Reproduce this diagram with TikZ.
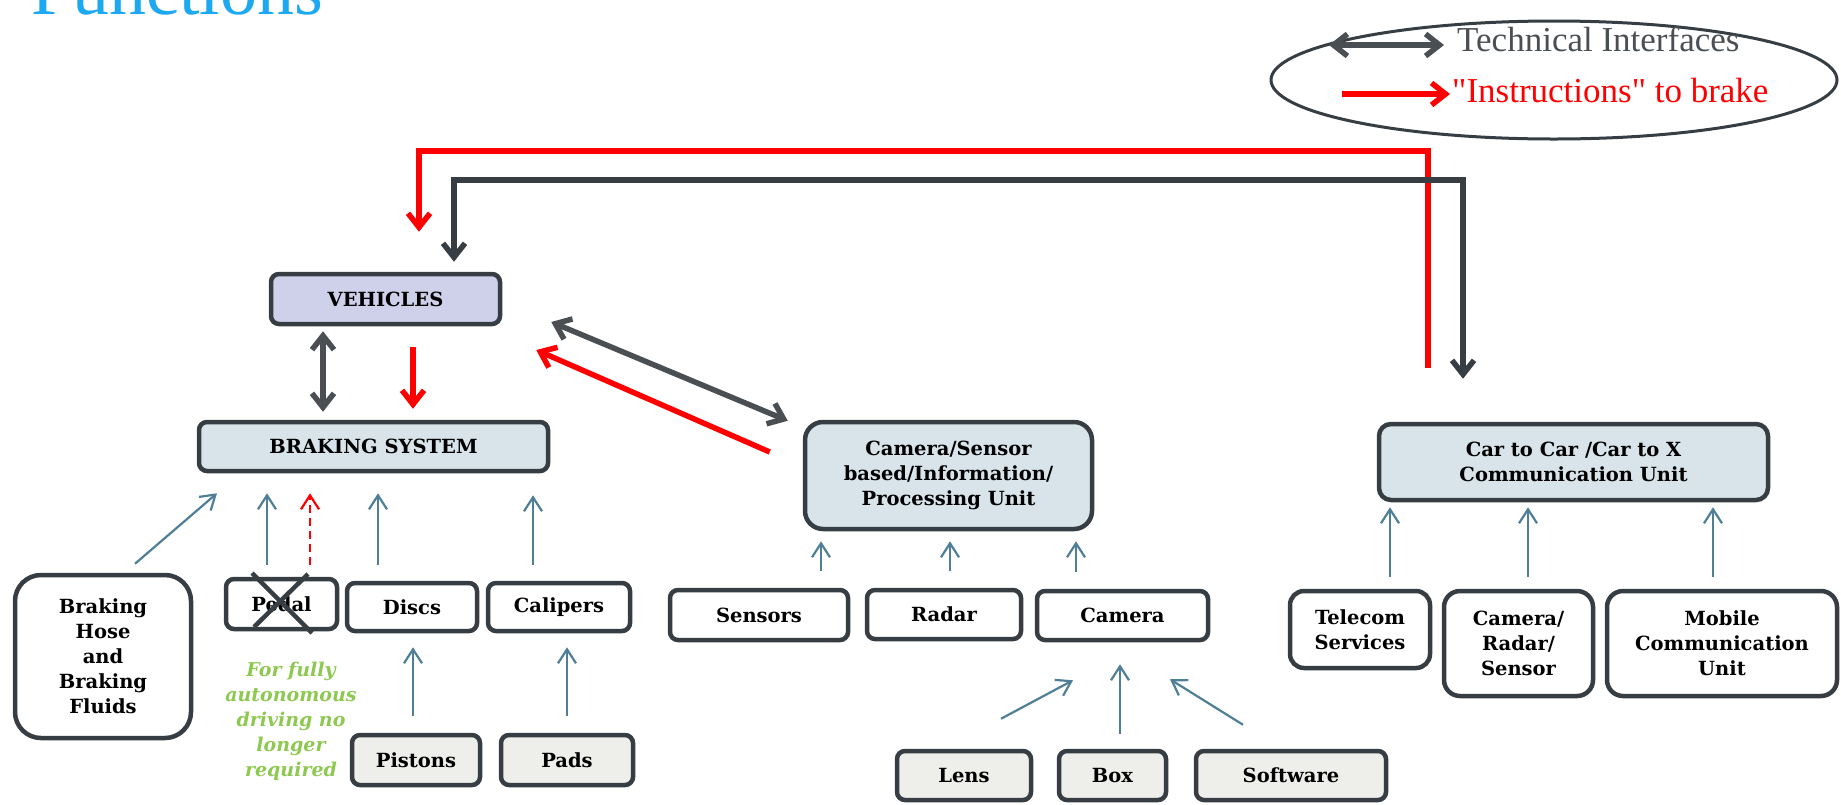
\documentclass[tikz,border=0pt]{standalone}
\usepackage{fontspec}
\setmainfont{DejaVu Serif}
\newfontfamily\legendfont{Liberation Serif}
\usetikzlibrary{arrows.meta}

\definecolor{boxline}{HTML}{363E44}
\definecolor{techgray}{HTML}{4A4F54}
\definecolor{feedblue}{HTML}{4F7F96}
\definecolor{vehfill}{HTML}{CFD0EA}
\definecolor{unitfill}{HTML}{D8E4EA}
\definecolor{partfill}{HTML}{EEEFEA}
\definecolor{notegreen}{HTML}{8DC850}
\definecolor{titleblue}{HTML}{1DA9F1}

\tikzset{
	part/.style={draw=boxline, line width=4.5pt, rounded corners=8pt, fill=white, align=center, inner sep=0pt, font=\bfseries\fontsize{19.5}{25}\selectfont},
	unit/.style={part, fill=unitfill},
	subpart/.style={part, fill=partfill},
	tech/.style={draw=techgray, line width=5.5pt, >={Straight Barb[length=14pt,width=22pt]}},
	instr/.style={draw=red, line width=5.5pt, -{Straight Barb[length=14pt,width=22pt]}},
	feed/.style={draw=feedblue, line width=2.2pt, -{Straight Barb[length=14pt,width=18pt]}},
}

\begin{document}
\begin{tikzpicture}[x=1pt, y=-1pt]
			%%%%% START %%%%%
			\useasboundingbox (0,0) rectangle (1841,804);
			
			\node[anchor=base west, inner sep=0pt, text=titleblue, font=\legendfont\fontsize{74}{80}\selectfont] (title) at (31,14) {Functions};
			
			% legend
			\draw[boxline, line width=3pt] (1554,80) ellipse (283 and 59);
			\node[anchor=west, inner sep=0pt, text=techgray, font=\legendfont\fontsize{35}{40}\selectfont] (techlbl) at (1457,39) {Technical Interfaces};
			\node[anchor=west, inner sep=0pt, text=red, font=\legendfont\fontsize{35}{40}\selectfont] (brakelbl) at (1452,91) {"Instructions" to brake};
			\draw[tech,<->] ([xshift=-128pt,yshift=-6pt]techlbl.west) -- ([xshift=-13pt,yshift=-6pt]techlbl.west);
			\draw[instr] ([xshift=-110pt,yshift=-3pt]brakelbl.west) -- ([xshift=-2pt,yshift=-3pt]brakelbl.west);
			
			% main units
			\node[part, fill=vehfill, minimum width=229pt, minimum height=50pt] (veh) at (385.5,299) {VEHICLES};
			\node[unit, minimum width=349pt, minimum height=49pt] (brake) at (373.5,446.5) {BRAKING SYSTEM};
			\node[unit, rounded corners=18pt, minimum width=287pt, minimum height=107pt] (camunit) at (948.5,475.5) {Camera/Sensor\\based/Information/\\Processing Unit};
			\node[unit, rounded corners=12pt, minimum width=389pt, minimum height=76pt] (car) at (1573.5,462) {Car to Car /Car to X\\Communication Unit};
			
			% braking parts
			\node[part, rounded corners=26pt, minimum width=176pt, minimum height=163pt] (hose) at (103,656.5) {Braking\\Hose\\and\\Braking\\Fluids};
			\node[part, minimum width=111pt, minimum height=50pt] (pedal) at (281.5,604) {Pedal};
			\node[part, minimum width=130pt, minimum height=48pt] (discs) at (412,607) {Discs};
			\node[part, minimum width=142pt, minimum height=48pt] (calipers) at (559,607) {Calipers};
			\node[subpart, minimum width=128pt, minimum height=50pt] (pistons) at (416,760) {Pistons};
			\node[subpart, minimum width=132pt, minimum height=50pt] (pads) at (567,760) {Pads};
			
			\draw[boxline, line width=4.5pt] ([xshift=-29.5pt,yshift=31pt]pedal.center) -- ([xshift=30.5pt,yshift=-29pt]pedal.center);
			\draw[boxline, line width=4.5pt] ([xshift=26.5pt,yshift=30pt]pedal.center) -- ([xshift=-27.5pt,yshift=-23pt]pedal.center);
			
			\node[text=notegreen, align=center, font=\bfseries\itshape\fontsize{19}{25}\selectfont] (note) at (291,721) {For fully\\autonomous\\driving no\\longer\\required};
			
			% camera parts
			\node[part, minimum width=178pt, minimum height=50pt] (sensors) at (759,615) {Sensors};
			\node[part, minimum width=154pt, minimum height=49pt] (radar) at (944,614.5) {Radar};
			\node[part, minimum width=171pt, minimum height=49pt] (camera) at (1122.5,615.5) {Camera};
			\node[subpart, minimum width=134pt, minimum height=49pt] (lens) at (964,775.5) {Lens};
			\node[subpart, minimum width=107pt, minimum height=49pt] (box) at (1112.5,775.5) {Box};
			\node[subpart, minimum width=190pt, minimum height=49pt] (software) at (1291,775.5) {Software};
			
			% communication parts
			\node[part, rounded corners=14pt, minimum width=140pt, minimum height=77pt] (telecom) at (1360,629.5) {Telecom\\Services};
			\node[part, rounded corners=16pt, minimum width=149pt, minimum height=105pt] (camradar) at (1518.5,643.5) {Camera/\\Radar/\\Sensor};
			\node[part, rounded corners=16pt, minimum width=230pt, minimum height=105pt] (mobile) at (1722,643.5) {Mobile\\Communication\\Unit};
			
			% instructions and interfaces
			\draw[instr] ([xshift=-145.5pt,yshift=54pt]car.north) |- ([xshift=33.5pt,yshift=121pt]veh.north) -- ([xshift=33.5pt,yshift=40pt]veh.north);
			\draw[tech, <->, draw=boxline] ([xshift=68.5pt,yshift=10pt]veh.north) -- ([xshift=68.5pt,yshift=92pt]veh.north) -| ([xshift=-110.5pt,yshift=43pt]car.north);
			\draw[tech, <->, shorten <=5pt, shorten >=8pt] ([xshift=-62.5pt]veh.south) -- ([xshift=-50.5pt]brake.north);
			\draw[instr, shorten <=21pt, shorten >=11pt] ([xshift=27.5pt]veh.south) -- ([xshift=39.5pt]brake.north);
			\draw[tech, <->] ([xshift=49pt,yshift=-23pt]veh.east) -- ([xshift=-15pt,yshift=-1pt]camunit.north west);
			\draw[instr] ([xshift=-33pt,yshift=23.5pt]camunit.west) -- ([xshift=34pt,yshift=-51pt]veh.east);
			
			% feeds into braking system
			\draw[feed] ([xshift=32pt,yshift=9pt]hose.north) -- ([xshift=-156.5pt,yshift=-20pt]brake.south);
			\draw[feed, shorten <=12pt, shorten >=20pt] ([xshift=-14.5pt]pedal.north) -- ([xshift=-106.5pt]brake.south);
			\draw[feed, red, dash pattern=on 8pt off 5pt, shorten <=12pt, shorten >=20pt] ([xshift=28.5pt]pedal.north) -- ([xshift=-63.5pt]brake.south);
			\draw[feed, shorten <=16pt, shorten >=20pt] ([xshift=-34pt]discs.north) -- ([xshift=4.5pt]brake.south);
			\draw[feed, shorten <=16pt, shorten >=22pt] ([xshift=-26pt]calipers.north) -- ([xshift=159.5pt]brake.south);
			\draw[feed, shorten <=17pt, shorten >=14pt] ([xshift=-3pt]pistons.north) -- ([xshift=1pt]discs.south);
			\draw[feed, shorten <=17pt, shorten >=14pt] (pads.north) -- ([xshift=8pt]calipers.south);
			
			% feeds into camera unit
			\draw[feed, shorten <=17pt, shorten >=10pt] ([xshift=62pt]sensors.north) -- ([xshift=-127.5pt]camunit.south);
			\draw[feed, shorten <=17pt, shorten >=10pt] ([xshift=6pt]radar.north) -- ([xshift=1.5pt]camunit.south);
			\draw[feed, shorten <=17pt, shorten >=10pt] ([xshift=-46.5pt]camera.north) -- ([xshift=127.5pt]camunit.south);
			\draw[feed] ([xshift=37pt,yshift=30pt]lens.north) -- ([xshift=-49.5pt,yshift=-38pt]camera.south);
			\draw[feed, shorten <=15pt, shorten >=22pt] ([xshift=7.5pt]box.north) -- ([xshift=-2.5pt]camera.south);
			\draw[feed] ([xshift=-48pt,yshift=24pt]software.north) -- ([xshift=47.5pt,yshift=-37pt]camera.south);
			
			% feeds into communication unit
			\draw[feed, shorten <=12pt, shorten >=5pt] ([xshift=30pt]telecom.north) -- ([xshift=-183.5pt]car.south);
			\draw[feed, shorten <=12pt, shorten >=5pt] ([xshift=9.5pt]camradar.north) -- ([xshift=-45.5pt]car.south);
			\draw[feed, shorten <=12pt, shorten >=5pt] ([xshift=-9pt]mobile.north) -- ([xshift=139.5pt]car.south);
			
			%%%%% END %%%%%
\end{tikzpicture}
\end{document}
